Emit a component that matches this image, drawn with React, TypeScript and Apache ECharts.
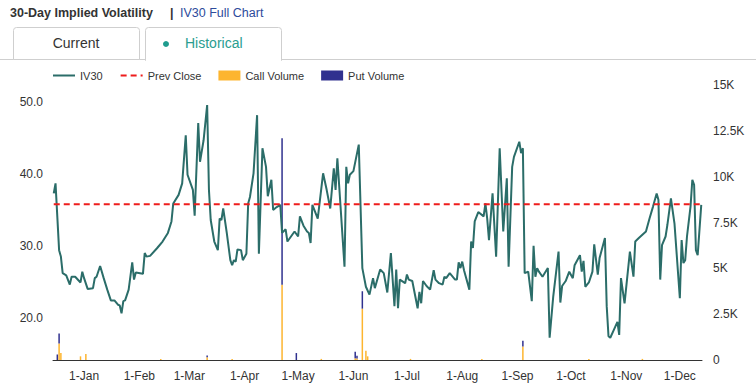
import React, { useEffect, useRef } from "react";
import * as echarts from "echarts";

// ---- data ----
const startDate = "2022-12-15";
const endDayOffset = 363; // 2023-12-13
const monthNames = ["Jan", "Feb", "Mar", "Apr", "May", "Jun", "Jul", "Aug", "Sep", "Oct", "Nov", "Dec"];

// IV30 readings: day offsets from startDate and IV values
const ivDays = [
  0, 1, 3, 4, 5, 7, 9, 10, 12, 15, 16, 17, 19, 22, 23, 24, 26, 28, 30, 32,
  34, 36, 37, 38, 39, 40, 42, 44, 45, 46, 50, 51, 52, 54, 58, 61, 64, 66, 67, 70,
  72, 74, 75, 78, 79, 81, 82, 84, 86, 87, 88, 90, 92, 93, 94, 95, 97, 99, 100, 101,
  102, 103, 105, 106, 108, 109, 110, 112, 114, 115, 117, 119, 120, 122, 123, 125, 127, 128, 130, 131,
  133, 135, 137, 138, 140, 142, 143, 144, 145, 148, 151, 153, 155, 157, 158, 159, 163, 164, 165, 166,
  168, 171, 173, 175, 177, 179, 180, 183, 185, 187, 189, 191, 192, 193, 194, 197, 198, 199, 201, 204,
  205, 206, 207, 209, 211, 213, 214, 216, 218, 219, 220, 222, 225, 226, 227, 228, 229, 230, 233, 234,
  235, 236, 238, 241, 242, 243, 244, 246, 248, 250, 252, 254, 255, 257, 258, 261, 262, 263, 264, 265,
  266, 268, 269, 270, 271, 272, 274, 277, 278, 280, 283, 284, 285, 287, 289, 291, 292, 295, 296, 297,
  298, 300, 302, 303, 305, 306, 309, 310, 311, 312, 314, 316, 317, 318, 320, 323, 325, 326, 328, 332,
  334, 336, 338, 339, 340, 341, 343, 344, 346, 348, 351, 352, 353, 354, 355, 357, 358, 359, 360, 361,
  363,
];
const ivValues = [
  37.3, 38.7, 29.4, 28.5, 26.2, 25.9, 24.6, 25.7, 25.7, 24.9, 26.4, 25.5, 24.0, 24.1, 25.5, 25.7, 27.2, 25.5, 23.9, 22.4,
  22.4, 21.8, 21.7, 20.6, 22.3, 22.4, 23.9, 27.7, 25.3, 26.3, 26.1, 29.0, 28.5, 28.6, 29.7, 30.6, 31.8, 33.4, 35.9, 37.1,
  38.7, 45.4, 39.9, 37.8, 34.2, 47.1, 41.7, 44.7, 49.6, 37.8, 33.6, 30.6, 29.4, 33.8, 33.6, 35.2, 31.8, 28.0, 27.3, 28.0,
  27.8, 29.5, 29.4, 28.0, 28.9, 35.9, 36.8, 40.1, 48.2, 28.9, 43.6, 41.0, 36.9, 39.2, 35.0, 35.4, 35.7, 31.8, 32.3, 30.6,
  31.3, 32.0, 31.3, 34.1, 32.8, 32.0, 31.8, 30.4, 35.7, 33.8, 40.1, 37.8, 35.2, 40.8, 37.8, 42.2, 27.1, 41.0, 38.7, 39.9,
  40.4, 44.1, 26.9, 24.3, 23.2, 25.5, 24.1, 26.7, 26.2, 23.5, 29.0, 21.6, 26.7, 21.3, 25.3, 24.8, 26.0, 25.3, 25.1, 21.3,
  23.6, 22.0, 25.1, 24.4, 23.9, 26.6, 25.3, 24.8, 24.6, 25.7, 25.5, 26.2, 25.3, 25.3, 27.7, 26.9, 27.8, 26.6, 23.9, 30.6,
  29.7, 33.4, 34.7, 34.1, 35.9, 33.8, 30.8, 37.3, 28.5, 43.6, 32.0, 39.4, 27.1, 41.0, 42.4, 44.5, 42.9, 43.6, 26.2, 26.3,
  26.4, 22.3, 30.0, 25.7, 26.9, 26.4, 25.7, 26.9, 17.2, 22.9, 29.2, 22.1, 24.4, 25.1, 26.4, 25.5, 27.3, 28.7, 26.4, 27.9,
  24.3, 24.9, 26.4, 30.2, 26.0, 28.3, 31.1, 21.6, 17.4, 17.2, 18.3, 19.4, 17.6, 25.5, 22.0, 29.2, 25.7, 30.6, 31.1, 32.0,
  33.8, 35.5, 37.3, 36.4, 25.3, 30.1, 31.3, 32.9, 36.6, 33.1, 22.7, 30.8, 27.6, 28.0, 31.3, 35.5, 39.2, 38.5, 29.4, 28.7,
  35.7,
];
const prevClose = 35.78;

// Option volume bars (stacked): day offsets, call volume, put volume
const volDays = [2, 3, 4, 15, 18, 60, 86, 100, 128, 136, 150, 169, 170, 173, 175, 176, 200, 240, 263, 300, 330];
const callVol = [0, 900, 380, 200, 330, 60, 150, 60, 4100, 0, 60, 100, 80, 2800, 500, 200, 60, 60, 730, 60, 60];
const putVol = [300, 550, 0, 0, 0, 0, 100, 0, 7990, 380, 0, 350, 150, 950, 0, 0, 0, 0, 320, 0, 0];

const leftTicks = [20, 30, 40, 50];
const ivMin = 14.1;
const ivMax = 52.4;
const volMax = 15000;
const volStep = 2500;

const DAY = 86400000;
const baseUTC = Date.UTC(2022, 11, 15);
function dayToDate(o: number): string {
  return new Date(baseUTC + o * DAY).toISOString().slice(0, 10);
}

const TEAL = "#2b6d69";
const RED = "#ee1c1c";
const CALL = "#fdb52f";
const PUT = "#30318f";

export default function App() {
  const ref = useRef<HTMLDivElement>(null);
  useEffect(() => {
    document.body.style.margin = "0";
    if (!ref.current) return;
    const chart = echarts.init(ref.current, null, { renderer: "svg" });
    const ivData = ivDays.map((d, i) => [dayToDate(d), ivValues[i]]);
    const pcData = ivDays.map((d) => [dayToDate(d), prevClose]);
    const callData = volDays.map((d, i) => [dayToDate(d), callVol[i]]);
    const putData = volDays.map((d, i) => [dayToDate(d), putVol[i]]);
    const font = "Arial, 'Liberation Sans', sans-serif";

    chart.setOption({
      animation: false,
      textStyle: { fontFamily: font },
      graphic: [
        { type: "text", left: 10, top: 6, style: { text: "30-Day Implied Volatility", font: `bold 12.5px ${font}`, fill: "#333" } },
        { type: "text", left: 170, top: 6, style: { text: "|", font: `bold 12.5px ${font}`, fill: "#333" } },
        { type: "text", left: 180, top: 6, style: { text: "IV30 Full Chart", font: `12.5px ${font}`, fill: "#2d4b9b" } },
        { type: "line", shape: { x1: 0, y1: 59.5, x2: 756, y2: 59.5 }, style: { stroke: "#cfcfcf", lineWidth: 1 } },
        { type: "rect", shape: { x: 13.5, y: 27.5, width: 126, height: 32, r: [3, 3, 0, 0] }, style: { fill: "#fff", stroke: "#cfcfcf", lineWidth: 1 } },
        { type: "text", x: 76, y: 43, style: { text: "Current", font: `14px ${font}`, fill: "#333", align: "center", verticalAlign: "middle" } },
        { type: "rect", shape: { x: 145.5, y: 27.5, width: 136, height: 33, r: [3, 3, 0, 0] }, style: { fill: "#fff", stroke: "#cfcfcf", lineWidth: 1 } },
        { type: "rect", shape: { x: 146, y: 57, width: 135, height: 5 }, style: { fill: "#fff" } },
        { type: "circle", shape: { cx: 166, cy: 44, r: 3 }, style: { fill: "#1f9c8e" } },
        { type: "text", x: 185, y: 43, style: { text: "Historical", font: `14px ${font}`, fill: "#2a9d8f", align: "left", verticalAlign: "middle" } },
      ],
      legend: {
        left: 47,
        top: 65,
        itemWidth: 22,
        itemHeight: 10,
        itemGap: 17,
        textStyle: { fontSize: 11, color: "#333", fontFamily: font },
        data: [
          { name: "IV30", itemStyle: { opacity: 0 } },
          { name: "Prev Close", itemStyle: { opacity: 0 } },
          { name: "Call Volume", icon: "rect" },
          { name: "Put Volume", icon: "rect" },
        ],
      },
      grid: { left: 53, right: 54, top: 85, bottom: 32 },
      xAxis: {
        type: "time",
        min: dayToDate(0),
        max: dayToDate(endDayOffset),
        splitNumber: 12,
        axisLine: { show: true, lineStyle: { color: "#333", width: 1 } },
        axisTick: { show: false },
        splitLine: { show: false },
        axisLabel: {
          color: "#333",
          fontSize: 12,
          margin: 10,
          hideOverlap: false,
          formatter: (v: number) => {
            const d = new Date(v);
            return d.getDate() === 1 ? `${d.getDate()}-${monthNames[d.getMonth()]}` : "";
          },
        },
      },
      yAxis: [
        {
          type: "value",
          min: ivMin,
          max: ivMax,
          splitNumber: 4,
          axisLine: { show: false },
          axisTick: { show: false },
          splitLine: { show: false },
          axisLabel: {
            color: "#333",
            fontSize: 12,
            margin: 10,
            showMinLabel: false,
            showMaxLabel: false,
            formatter: (v: number) => (leftTicks.includes(Math.round(v * 10) / 10) ? v.toFixed(1) : ""),
          },
        },
        {
          type: "value",
          min: 0,
          max: volMax,
          interval: volStep,
          position: "right",
          axisLine: { show: false },
          axisTick: { show: false },
          splitLine: { show: false },
          axisLabel: {
            color: "#333",
            fontSize: 12,
            margin: 11,
            formatter: (v: number) => (v === 0 ? "0" : `${v / 1000}K`),
          },
        },
      ],
      series: [
        {
          name: "Call Volume",
          type: "bar",
          yAxisIndex: 1,
          stack: "vol",
          barWidth: 1.5,
          itemStyle: { color: CALL },
          data: callData,
        },
        {
          name: "Put Volume",
          type: "bar",
          yAxisIndex: 1,
          stack: "vol",
          barWidth: 1.5,
          itemStyle: { color: PUT },
          data: putData,
        },
        {
          name: "IV30",
          type: "line",
          showSymbol: false,
          symbol: "none",
          lineStyle: { color: TEAL, width: 2 },
          itemStyle: { color: TEAL },
          data: ivData,
          z: 3,
        },
        {
          name: "Prev Close",
          type: "line",
          showSymbol: false,
          symbol: "none",
          lineStyle: { color: RED, width: 2, type: [6, 4] },
          itemStyle: { color: RED },
          data: pcData,
          z: 4,
        },
      ],
    });
    return () => chart.dispose();
  }, []);
  return <div ref={ref} style={{ width: 756, height: 392 }} />;
}
